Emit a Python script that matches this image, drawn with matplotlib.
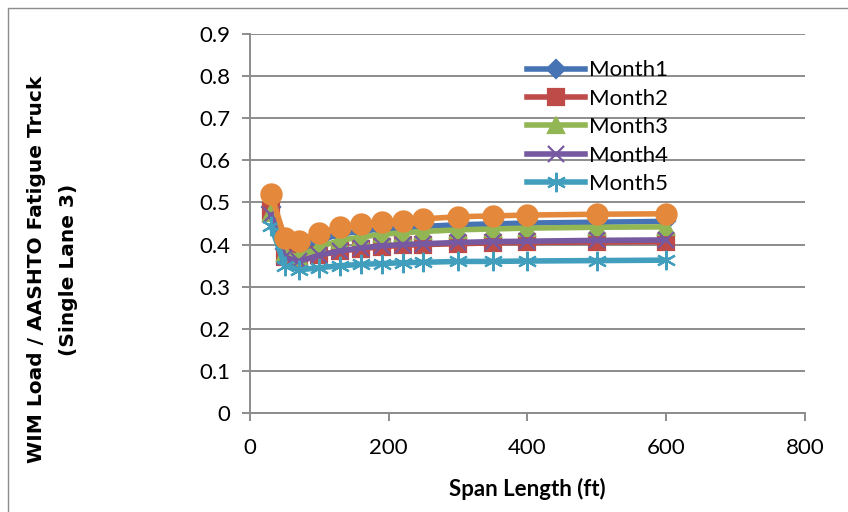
import matplotlib
matplotlib.use("Agg")
from matplotlib import pyplot as plt
from matplotlib.patches import Rectangle

plt.rcParams['font.family'] = ['Lato', 'DejaVu Sans']

span_ft = [30, 50, 70, 100, 130, 160, 190, 220, 250, 300, 350, 400, 500, 600]

month1 = [0.490, 0.390, 0.380, 0.410, 0.425, 0.432, 0.437, 0.440, 0.443, 0.447, 0.449, 0.451, 0.453, 0.455]
month2 = [0.480, 0.370, 0.360, 0.375, 0.385, 0.390, 0.395, 0.398, 0.400, 0.402, 0.404, 0.405, 0.406, 0.407]
month3 = [0.475, 0.380, 0.370, 0.395, 0.410, 0.418, 0.424, 0.428, 0.431, 0.435, 0.437, 0.439, 0.441, 0.442]
month4 = [0.470, 0.370, 0.360, 0.375, 0.385, 0.392, 0.397, 0.400, 0.402, 0.405, 0.407, 0.408, 0.410, 0.411]
month5 = [0.445, 0.350, 0.340, 0.345, 0.350, 0.353, 0.355, 0.357, 0.358, 0.360, 0.360, 0.361, 0.362, 0.363]
month6 = [0.520, 0.416, 0.409, 0.428, 0.442, 0.449, 0.454, 0.456, 0.461, 0.466, 0.468, 0.470, 0.472, 0.473]

series = [
    {'y': month1, 'label': "Month1", 'color': '#4573b3', 'marker': 'D', 'ms': 9},
    {'y': month2, 'label': "Month2", 'color': '#be4b48', 'marker': 's', 'ms': 12},
    {'y': month3, 'label': "Month3", 'color': '#93b655', 'marker': '^', 'ms': 12},
    {'y': month4, 'label': "Month4", 'color': '#7659a0', 'marker': 'x', 'ms': 12},
    {'y': month5, 'label': "Month5", 'color': '#419fbd', 'marker': (6, 2, 0), 'ms': 14},
    {'y': month6, 'label': "_Month6", 'color': '#e4893b', 'marker': 'o', 'ms': 14.5},
]

fig = plt.figure(figsize=(8.48, 5.12), dpi=100)
fig.patches.append(Rectangle((0.009, -0.01), 0.995, 0.994, transform=fig.transFigure,
                             fill=False, edgecolor='#8c8c8c', linewidth=1.0))
ax = fig.add_axes([0.295, 0.193, 0.654, 0.741])

for s in series:
    ax.plot(span_ft, s['y'], color=s['color'], linewidth=4, marker=s['marker'],
            markersize=s['ms'], markeredgecolor=s['color'], markerfacecolor=s['color'],
            markeredgewidth=1.6, label=s['label'])

ax.set_xlim(0, 800)
ax.set_ylim(0, 0.9)
ax.set_xticks([0, 200, 400, 600, 800])
ax.set_yticks([i / 10 for i in range(10)])
ax.set_yticklabels(['0'] + [f"{i / 10:.1f}" for i in range(1, 10)])
ax.yaxis.grid(True, color='#8c8c8c', linewidth=1.4)
ax.set_axisbelow(True)
for side in ('top', 'right'):
    ax.spines[side].set_visible(False)
for side in ('left', 'bottom'):
    ax.spines[side].set_color('#8c8c8c')
    ax.spines[side].set_linewidth(1.4)
ax.tick_params(axis='both', colors='#8c8c8c', labelcolor='black', labelsize=16,
               length=6, width=1.4, direction='out')
ax.tick_params(axis='x', pad=12)
ax.tick_params(axis='y', pad=8)

ax.set_xlabel("Span Length (ft)", fontsize=16, fontweight='bold', labelpad=14)
# y title sits in the figure margin, centred on the chart area rather than the axes
fig.text(0.062, 0.473, "WIM Load / AASHTO Fatigue Truck\n(Single Lane 3)", rotation=90,
         ha='center', va='center', multialignment='center', fontsize=14.5,
         fontweight='bold', family=['DejaVu Sans'], linespacing=1.9)

ax.legend(loc='upper left', bbox_to_anchor=(0.50, 0.93), frameon=False, fontsize=16,
          handlelength=2.6, handletextpad=0.15, labelspacing=0.38, borderaxespad=0,
          borderpad=0)

fig.savefig("out.png", dpi=100)
